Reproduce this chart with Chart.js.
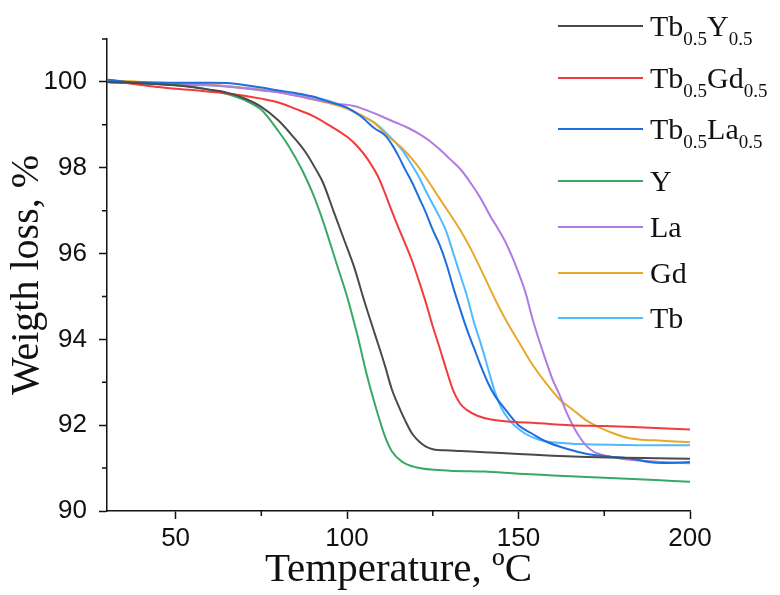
<!DOCTYPE html>
<html>
<head>
<meta charset="utf-8">
<script src="https://cdn.jsdelivr.net/npm/chart.js@4.4.1/dist/chart.umd.min.js"></script>
<style>
html, body { margin: 0; padding: 0; background: #fff; }
#wrap { position: relative; width: 780px; height: 595px; }
.row { position: absolute; left: 558px; height: 40px; display: flex; align-items: center;
       font-family: 'Liberation Serif', serif; font-size: 30px; line-height: 30px; color: #111; white-space: nowrap; }
.row .swatch { width: 85px; height: 2.5px; margin-right: 7px; }
.row sub { font-size: 19px; vertical-align: -9px; line-height: 0; }
</style>
</head>
<body>
<div id="wrap">
  <canvas id="tgaChart" width="780" height="595"></canvas>
  <div id="legend"></div>
</div>
<script>
// Series names (0.5 becomes a subscript in the legend)
const seriesNames = ['Tb0.5Y0.5', 'Tb0.5Gd0.5', 'Tb0.5La0.5', 'Y', 'La', 'Gd', 'Tb'];
const seriesColors = ['#4a4a4a', '#f03c3c', '#1d6fdf', '#38a964', '#b07be2', '#e8a82b', '#4fbaff'];

// Tb0.5Y0.5
const tempTbY = [30, 40, 50, 60, 65, 70, 75, 80, 84, 88, 91, 93, 96, 99, 102, 105, 108, 111, 113, 115, 117, 119, 121, 123, 125, 130, 135, 140, 150, 160, 170, 180, 190, 200];
const lossTbY = [100.0, 99.97, 99.92, 99.82, 99.75, 99.62, 99.42, 99.1, 98.75, 98.35, 97.95, 97.65, 97.0, 96.35, 95.7, 94.9, 94.15, 93.4, 92.85, 92.45, 92.1, 91.8, 91.62, 91.5, 91.44, 91.41, 91.39, 91.37, 91.33, 91.29, 91.26, 91.24, 91.23, 91.22];

// Tb0.5Gd0.5
const tempTbGd = [30, 35, 40, 45, 50, 55, 60, 65, 70, 75, 80, 85, 90, 95, 100, 103, 106, 109, 111, 113, 115, 117, 119, 121, 123, 125, 127, 129, 131, 133, 135, 138, 142, 148, 155, 165, 175, 185, 200];
const lossTbGd = [100.0, 99.98, 99.93, 99.88, 99.84, 99.81, 99.77, 99.73, 99.68, 99.61, 99.52, 99.37, 99.21, 98.98, 98.72, 98.5, 98.2, 97.8, 97.42, 97.0, 96.6, 96.22, 95.82, 95.35, 94.85, 94.3, 93.8, 93.28, 92.8, 92.5, 92.35, 92.22, 92.13, 92.08, 92.05, 92.0, 91.98, 91.95, 91.9];

// Tb0.5La0.5
const tempTbLa = [30, 33, 36, 40, 50, 60, 66, 70, 75, 80, 85, 90, 95, 100, 104, 108, 111, 113, 115, 117, 119, 121, 123, 125, 127, 129, 131, 133, 135, 137, 139, 141, 143, 146, 150, 154, 158, 164, 170, 176, 183, 188, 192, 200];
const lossTbLa = [100.05, 100.03, 100.0, 99.99, 99.98, 99.98, 99.97, 99.93, 99.87, 99.8, 99.74, 99.66, 99.53, 99.4, 99.2, 98.92, 98.76, 98.55, 98.27, 97.95, 97.65, 97.3, 96.95, 96.55, 96.2, 95.75, 95.2, 94.7, 94.22, 93.8, 93.38, 93.0, 92.7, 92.38, 92.0, 91.8, 91.62, 91.45, 91.33, 91.27, 91.22, 91.14, 91.12, 91.14];

// Y
const tempY = [30, 40, 50, 57, 65, 70, 75, 80, 83, 87, 90, 93, 97, 100, 103, 106, 109, 111, 113, 116, 120, 130, 140, 150, 160, 170, 180, 190, 200];
const lossY = [100.0, 99.97, 99.92, 99.86, 99.72, 99.58, 99.35, 98.85, 98.5, 97.93, 97.4, 96.75, 95.75, 95.0, 94.1, 93.1, 92.25, 91.75, 91.4, 91.15, 91.02, 90.94, 90.92, 90.87, 90.83, 90.79, 90.76, 90.72, 90.68];

// La
const tempLa = [30, 40, 50, 60, 70, 80, 90, 97, 102, 106, 110, 114, 118, 121, 124, 127, 130, 133, 136, 139, 142, 144, 146, 148, 150, 152, 154, 156, 158, 160, 162, 164, 166, 168, 170, 172, 176, 180, 186, 192, 200];
const lossLa = [100.0, 99.98, 99.96, 99.92, 99.85, 99.76, 99.6, 99.49, 99.44, 99.33, 99.2, 99.06, 98.92, 98.79, 98.63, 98.43, 98.2, 97.97, 97.65, 97.28, 96.84, 96.58, 96.3, 95.95, 95.55, 95.1, 94.5, 93.98, 93.5, 93.05, 92.7, 92.3, 91.97, 91.7, 91.5, 91.38, 91.28, 91.22, 91.17, 91.14, 91.11];

// Gd
const tempGd = [30, 35, 40, 50, 57, 65, 72, 80, 85, 90, 95, 100, 104, 108, 112, 116, 119, 121, 124, 127, 130, 133, 136, 138, 141, 144, 147, 150, 154, 158, 162, 166, 170, 174, 178, 182, 186, 192, 200];
const lossGd = [100.02, 100.02, 100.0, 99.97, 99.96, 99.9, 99.85, 99.76, 99.68, 99.59, 99.5, 99.38, 99.23, 99.04, 98.73, 98.46, 98.2, 98.0, 97.65, 97.28, 96.92, 96.55, 96.12, 95.8, 95.3, 94.8, 94.35, 93.95, 93.42, 92.98, 92.6, 92.35, 92.1, 91.93, 91.8, 91.7, 91.66, 91.64, 91.6];

// Tb
const tempTb = [30, 40, 50, 60, 65, 70, 75, 80, 85, 90, 95, 100, 104, 108, 111, 114, 116, 118, 121, 123, 125, 127, 129, 131, 133, 135, 137, 139, 141, 143, 145, 147, 149, 152, 156, 160, 168, 180, 190, 200];
const lossTb = [100.0, 99.96, 99.94, 99.92, 99.9, 99.85, 99.8, 99.76, 99.71, 99.65, 99.55, 99.38, 99.22, 99.05, 98.84, 98.6, 98.42, 98.18, 97.78, 97.45, 97.15, 96.85, 96.5, 96.0, 95.5, 95.0, 94.4, 93.9, 93.35, 92.8, 92.4, 92.15, 91.98, 91.8, 91.66, 91.6, 91.56, 91.54, 91.53, 91.53];

const seriesTemps = [tempTbY, tempTbGd, tempTbLa, tempY, tempLa, tempGd, tempTb];
const seriesLoss = [lossTbY, lossTbGd, lossTbLa, lossY, lossLa, lossGd, lossTb];

// Legend row centres (px from top)
const legendRowY = [26, 78, 129, 181, 227, 273, 318];

// Build datasets from the arrays
const datasets = seriesNames.map(function(name, i) {
    return {
        label: name,
        data: seriesTemps[i].map((t, k) => ({ x: t, y: seriesLoss[i][k] })),
        borderColor: seriesColors[i],
        backgroundColor: seriesColors[i],
        borderWidth: 2,
        pointRadius: 0,
        fill: false,
        cubicInterpolationMode: 'monotone'
    };
});

// Short minor ticks between the labelled ones
const minorTicks = {
    id: 'minorTicks',
    afterDraw(chart) {
        const ctx = chart.ctx;
        const xs = chart.scales.x, ys = chart.scales.y;
        ctx.save();
        ctx.strokeStyle = '#111';
        ctx.lineWidth = 1.5;
        ctx.beginPath();
        for (let v = 75; v < 200; v += 50) {
            const px = xs.getPixelForValue(v);
            ctx.moveTo(px, ys.bottom);
            ctx.lineTo(px, ys.bottom + 5);
        }
        for (let v = 91; v <= 101; v += 2) {
            const py = ys.getPixelForValue(v);
            ctx.moveTo(xs.left - 5, py);
            ctx.lineTo(xs.left, py);
        }
        ctx.stroke();
        ctx.restore();
    }
};

const tickFont = { family: 'Liberation Sans', size: 26 };

new Chart(document.getElementById('tgaChart').getContext('2d'), {
    type: 'line',
    data: { datasets: datasets },
    options: {
        responsive: false,
        animation: false,
        layout: { padding: { top: 39, right: 90, left: 0, bottom: 0 } },
        plugins: { legend: { display: false }, tooltip: { enabled: false } },
        scales: {
            x: {
                type: 'linear',
                min: 30,
                max: 200,
                ticks: { stepSize: 50, includeBounds: false, font: tickFont, color: '#111', padding: 4, maxRotation: 0 },
                grid: { drawOnChartArea: false, tickLength: 8, tickColor: '#111', tickWidth: 1.5 },
                border: { color: '#111', width: 1.5 },
                title: { display: true, text: 'Temperature, ºC', font: { family: 'Liberation Serif', size: 41 }, color: '#111', padding: 0 },
                afterFit(scale) { scale.height = 84; }
            },
            y: {
                min: 90,
                max: 101,
                ticks: { stepSize: 2, includeBounds: false, font: tickFont, color: '#111', padding: 12 },
                grid: { drawOnChartArea: false, tickLength: 8, tickColor: '#111', tickWidth: 1.5 },
                border: { color: '#111', width: 1.5 },
                title: { display: true, text: 'Weigth loss, %', font: { family: 'Liberation Serif', size: 40 }, color: '#111', padding: { top: 3, bottom: 0 } },
                afterFit(scale) { scale.width = 107; }
            }
        }
    },
    plugins: [minorTicks]
});

// HTML legend so the 0.5 indices can be real subscripts
const legend = document.getElementById('legend');
seriesNames.forEach(function(name, i) {
    const row = document.createElement('div');
    row.className = 'row';
    row.style.top = (legendRowY[i] - 20) + 'px';
    const sw = document.createElement('span');
    sw.className = 'swatch';
    sw.style.background = seriesColors[i];
    const txt = document.createElement('span');
    txt.innerHTML = name.replace(/0\.5/g, '<sub>0.5</sub>');
    row.appendChild(sw);
    row.appendChild(txt);
    legend.appendChild(row);
});
</script>
</body>
</html>
